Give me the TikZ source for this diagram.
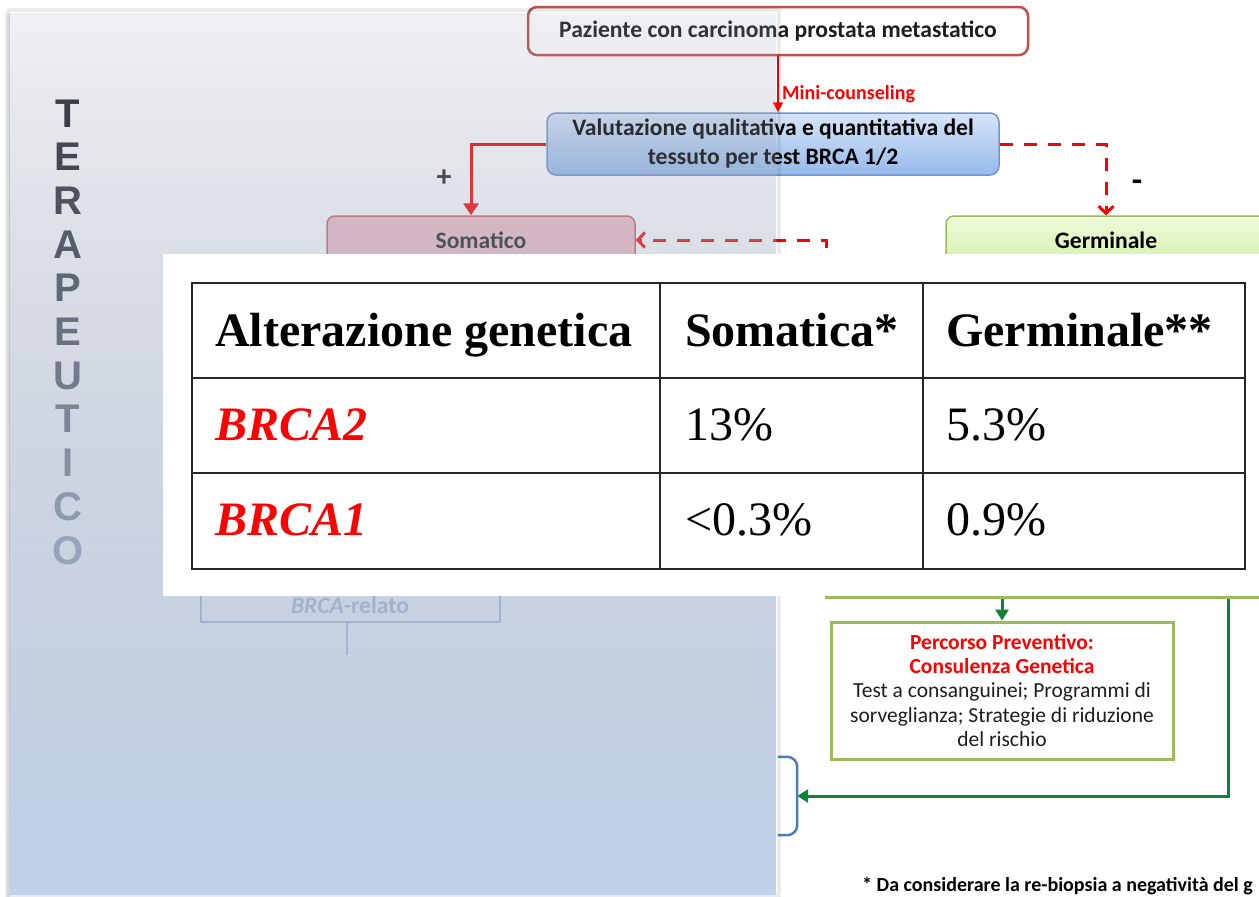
\documentclass[tikz,border=0pt]{standalone}
\usepackage{fontspec}
\setmainfont{Carlito}
\newfontfamily\serifT{Liberation Serif}
\newfontfamily\sansA{Liberation Sans}
\usetikzlibrary{arrows.meta,fadings,calc}
\definecolor{pzred}{RGB}{192,80,77}
\definecolor{arred}{RGB}{255,0,0}
\definecolor{sompink}{RGB}{240,190,198}
\definecolor{somborder}{RGB}{205,95,105}
\definecolor{valtop}{RGB}{214,228,248}
\definecolor{valbot}{RGB}{150,186,234}
\definecolor{valborder}{RGB}{110,150,210}
\definecolor{gertop}{RGB}{238,250,218}
\definecolor{gerbot}{RGB}{214,240,172}
\definecolor{lgreen}{RGB}{155,187,89}
\definecolor{dgreen}{RGB}{16,130,60}
\definecolor{tblue}{RGB}{74,126,187}
\definecolor{txtdark}{RGB}{30,30,30}
\definecolor{paneltop}{RGB}{150,158,175}
\definecolor{panelmid}{RGB}{152,176,212}
\definecolor{panelbot}{RGB}{192,209,233}
\definecolor{letdark}{RGB}{58,62,72}
\definecolor{letlight}{RGB}{150,163,184}
\definecolor{relcol}{RGB}{125,145,180}
\newcommand\fzB{\bfseries\fontsize{23.6pt}{29pt}\selectfont}
\newcommand\fzM{\bfseries\fontsize{20pt}{22pt}\selectfont}
\newcommand\fzS{\bfseries\fontsize{23.6pt}{26pt}\selectfont}
\newcommand\fzP{\fontsize{21.5pt}{24.4pt}\selectfont}
\newcommand\fzF{\bfseries\fontsize{20pt}{24pt}\selectfont}
\newcommand\fzT{\serifT\fontsize{48pt}{56pt}\selectfont}
\newcommand\fzL{\sansA\bfseries\fontsize{40pt}{44pt}\selectfont}
\tikzfading[name=panelfade, top color=transparent!85, middle color=transparent!22, bottom color=transparent!0]
\begin{document}
\begin{tikzpicture}[x=1pt,y=-1pt,
  pbox/.style={draw=pzred, line width=2.5pt, rounded corners=9pt, fill=white, minimum width=500pt, minimum height=48pt, font=\fzB, text=txtdark, inner sep=0pt},
  vbox/.style={draw=valborder, line width=1.5pt, rounded corners=9pt, top color=valtop, bottom color=valbot, minimum width=452pt, minimum height=62pt, font=\fzB, text=black, align=center, inner sep=0pt},
  sbox/.style={draw=somborder, line width=1.5pt, rounded corners=8pt, fill=sompink, minimum width=308pt, minimum height=48pt, font=\fzS, text=txtdark, inner sep=0pt},
  gbox/.style={draw=lgreen, line width=1.5pt, rounded corners=8pt, top color=gertop, bottom color=gerbot, minimum width=320pt, minimum height=48pt, font=\fzS, text=black, inner sep=0pt},
  pcbox/.style={draw=lgreen, line width=3pt, fill=white, minimum width=342pt, minimum height=137pt, align=center, font=\fzP, text=txtdark, inner sep=0pt},
  redarrow/.style={draw=arred, line width=3pt, -{Triangle[length=12pt,width=15pt]}},
  reddash/.style={draw=arred, line width=3pt, dash pattern=on 13pt off 11pt, -{Straight Barb[length=7pt,width=15pt]}},
  miniarrow/.style={draw=arred, line width=2pt, -{Triangle[length=10pt,width=10pt]}},
  garrow/.style={draw=dgreen, line width=3pt, -{Triangle[length=11pt,width=13pt]}},
  tabtext/.style={anchor=base west, inner sep=0pt, font=\fzT, text=black},
  letter/.style={anchor=base, inner sep=0pt, font=\fzL},
  pshadow/.style={fill=black, opacity=0.08}
]
\clip (0,0) rectangle (1259,897);
\fill[white] (0,0) rectangle (1259,897);

% ---- flowchart ----
\node[pbox] (paz) at (778,31) {Paziente con carcinoma prostata metastatico};
\node[vbox] (val) at (773,144) {Valutazione qualitativa e quantitativa del\\tessuto per test BRCA 1/2};
\node[sbox] (som) at (481,240) {Somatico};
\node[gbox] (ger) at (1106,240) {Germinale};

\draw[miniarrow] (paz.south) -- (paz.south |- val.north);
\node[anchor=west, inner sep=0pt, font=\fzM, text=arred] (mini) at (782,94) {Mini-counseling};

\draw[redarrow] (val.west) -| ([xshift=-10pt]som.north);
\node[font=\bfseries\fontsize{30pt}{32pt}\selectfont, text=txtdark, inner sep=0pt] (plus) at (444,178) {+};
\draw[reddash] (val.east) -| (ger.north);
\node[font=\bfseries\fontsize{34pt}{36pt}\selectfont, text=black, inner sep=0pt] (minus) at (1137,186) {-};

\coordinate (sd) at (826,320);
\draw[reddash] (sd) |- (som.east);

% hidden lower boxes
\node[draw=lgreen, line width=3pt, fill=white, minimum width=474pt, minimum height=117pt] (genbox) at (1063,538.5) {};
\node[pcbox] (perc) at (1002,690.5) {\textcolor{arred}{\bfseries Percorso Preventivo:}\\\textcolor{arred}{\bfseries Consulenza Genetica}\\Test a consanguinei; Programmi di\\sorveglianza; Strategie di riduzione\\del rischio};
\draw[garrow] (genbox.south -| perc.north) -- (perc.north);

\node[minimum width=194pt, minimum height=78pt, inner sep=0pt] (terapia) at (700,796) {};
\draw[tblue, line width=2.5pt, rounded corners=10pt] ([xshift=-19pt]terapia.north east) -- (terapia.north east) -- (terapia.south east) -- ([xshift=-19pt]terapia.south east);
\coordinate (gx) at (1228,0);
\draw[garrow] (genbox.south -| gx) |- (terapia.east);

\node[draw=relcol, line width=1.5pt, minimum width=299pt, minimum height=84pt] (relato) at (350.5,580) {};
\node[font=\fzS, text=relcol, inner sep=0pt] (relatotxt) at (350,605) {{\itshape BRCA}-relato};
\coordinate (relend) at (347,655);
\draw[relcol, line width=1.5pt] (relato.south -| relend) -- (relend);

\node[anchor=base west, inner sep=0pt, font=\fzF, text=black] (foot) at (862,891) {* Da considerare la re-biopsia a negatività del g};

% ---- translucent panel ----
\fill[pshadow] (5,12) rectangle (10,897);
\fill[pshadow] (7,14) rectangle (10,897);
\fill[pshadow] (7,8) rectangle (781,12);
\fill[pshadow] (777,12) rectangle (781,897);
\fill[pshadow] (10,894) rectangle (777,897);
\shade[top color=paneltop, middle color=panelmid, bottom color=panelbot, path fading=panelfade] (10,12) rectangle (777,894);

\foreach \L [count=\i from 0] in {T,E,R,A,P,E,U,T,I,C,O} {
  \pgfmathsetmacro\pc{100-\i*10}
  \node[letter, text={letdark!\pc!letlight}] (let\i) at (68,{127+\i*43.7}) {\L};
}

% ---- table ----
\fill[white] (163,254) rectangle (1262,595.5);
\draw[line width=2pt, black!85] (192,283) rectangle (1245,569);
\draw[line width=2pt, black!85] (660,283) -- (660,569);
\draw[line width=2pt, black!85] (923,283) -- (923,569);
\draw[line width=2pt, black!85] (192,378) -- (1245,378);
\draw[line width=2pt, black!85] (192,473) -- (1245,473);
\node[tabtext, font=\fzT\bfseries] (h1) at (215,346) {Alterazione genetica};
\node[tabtext, font=\fzT\bfseries] (h2) at (685,346) {Somatica*};
\node[tabtext, font=\fzT\bfseries] (h3) at (946,346) {Germinale**};
\node[tabtext, font=\fzT\bfseries\itshape, text=arred] (a1) at (215,440) {BRCA2};
\node[tabtext] (a2) at (685,440) {13\%};
\node[tabtext] (a3) at (946,440) {5.3\%};
\node[tabtext, font=\fzT\bfseries\itshape, text=arred] (b1) at (215,535) {BRCA1};
\node[tabtext] (b2) at (685,535) {<0.3\%};
\node[tabtext] (b3) at (946,535) {0.9\%};
\end{tikzpicture}
\end{document}
